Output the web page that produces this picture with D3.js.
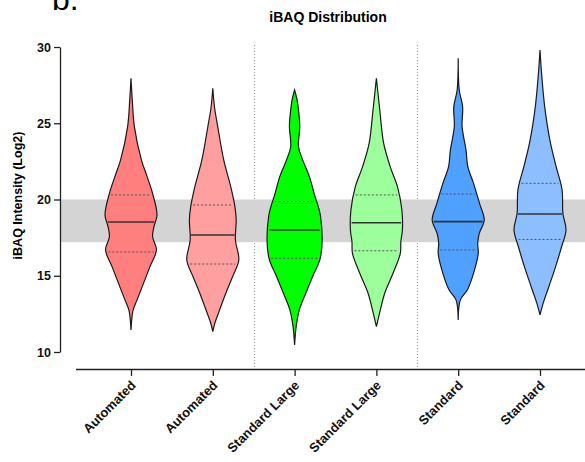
<!DOCTYPE html>
<html>
<head>
<meta charset="utf-8">
<script src="https://cdn.jsdelivr.net/npm/d3@7"></script>
<style>
  body { margin: 0; background: #fff; }
  svg { display: block; font-family: "Liberation Sans", Arial, sans-serif; }
</style>
</head>
<body>
<svg id="chart" width="585" height="462"></svg>
<script>
// Group labels along the x axis (they repeat, so we index them)
const categories = ['Automated', 'Automated', 'Standard Large', 'Standard Large', 'Standard', 'Standard'];
const fills = ['#FF7F7F', '#FF9F9F', '#00FF00', '#9CFF9C', '#4FA0FF', '#8DBEFF'];

// Quartiles per group (log2 intensity)
const medians = [18.52, 17.67, 18.0, 18.48, 18.55, 19.05];
const q1s = [16.56, 15.77, 16.14, 16.64, 16.69, 17.38];
const q3s = [20.3, 19.64, 19.86, 20.3, 20.36, 21.06];

// Density profiles: [value, relative half width]
const profile0 = [[27.95, 0], [26.5, 0.05], [24.78, 0.13], [22.6, 0.4], [21.5, 0.62], [20.4, 0.83], [18.98, 1.0], [18.2, 0.88], [17.56, 0.83], [16.7, 0.98], [15.6, 0.73], [14.5, 0.48], [13.4, 0.23], [12.75, 0.08], [11.44, 0]];
const profile1 = [[27.29, 0], [26.0, 0.07], [24.78, 0.19], [22.6, 0.42], [20.84, 0.69], [19.53, 0.85], [18.66, 0.9], [17.34, 0.87], [16.03, 1.0], [14.94, 0.76], [13.85, 0.5], [12.75, 0.26], [11.9, 0.08], [11.33, 0]];
const profile2 = [[27.18, 0], [26.5, 0.1], [25.87, 0.15], [24.78, 0.2], [23.46, 0.15], [22.6, 0.31], [21.5, 0.57], [20.4, 0.75], [18.87, 1.0], [16.25, 1.0], [14.94, 0.69], [13.85, 0.43], [12.75, 0.18], [11.66, 0.06], [10.46, 0]];
const profile3 = [[27.95, 0], [25.87, 0.13], [23.68, 0.28], [22.16, 0.53], [20.84, 0.81], [19.31, 0.98], [18.0, 1.0], [17.23, 0.94], [16.47, 0.92], [15.16, 0.64], [13.85, 0.32], [12.53, 0.12], [11.66, 0]];
const profile4 = [[29.26, 0], [27.18, 0.04], [26.09, 0.17], [24.78, 0.15], [23.25, 0.3], [22.16, 0.37], [21.06, 0.59], [19.75, 0.82], [18.66, 1.0], [17.78, 0.81], [17.13, 0.75], [16.47, 0.77], [15.16, 0.59], [14.07, 0.35], [13.4, 0.08], [12.1, 0]];
const profile5 = [[29.8, 0], [28.28, 0.06], [26.09, 0.18], [23.9, 0.38], [22.16, 0.62], [20.62, 0.85], [19.1, 0.88], [18.0, 1.0], [16.9, 0.83], [15.6, 0.6], [14.28, 0.34], [13.19, 0.12], [12.43, 0]];
const profiles = [profile0, profile1, profile2, profile3, profile4, profile5];

// Shaded reference band
const band = [17.2, 20.0];
const yTicks = [10, 15, 20, 25, 30];

const svg = d3.select('#chart');

const x = d3.scalePoint().domain(d3.range(categories.length)).range([131, 540]);
const y = d3.scaleLinear().domain([10, 30]).range([352, 47]);
const w = d3.scaleLinear().domain([0, 1]).range([0, 26]);

const axisY = 369;
const axisLeft = 60;

// Panel letter and title (the letter is cut by the top edge, as in the figure)
svg.append('text')
  .attr('x', 52).attr('y', 10)
  .attr('font-size', 32)
  .text('b.');

svg.append('text')
  .attr('x', 328).attr('y', 22)
  .attr('text-anchor', 'middle')
  .attr('font-size', 14)
  .attr('font-weight', 'bold')
  .text('iBAQ Distribution');

// Dotted separators between the pairs
[1.5, 3.5].forEach(m => {
  const sx = Math.round((x(Math.floor(m)) + x(Math.ceil(m))) / 2) + 0.5;
  svg.append('line')
    .attr('x1', sx).attr('x2', sx)
    .attr('y1', 45).attr('y2', axisY)
    .attr('stroke', '#999')
    .attr('stroke-width', 1)
    .attr('stroke-dasharray', '1,2');
});

// Grey band
svg.append('rect')
  .attr('x', axisLeft)
  .attr('y', y(band[1]))
  .attr('width', 585 - axisLeft)
  .attr('height', y(band[0]) - y(band[1]))
  .attr('fill', '#D4D4D4');

// Violins
const area = d3.area()
  .curve(d3.curveCatmullRom)
  .y(d => y(d[0]));

categories.forEach((c, i) => {
  const cx = x(i);
  const prof = profiles[i];
  const g = svg.append('g');

  g.append('path')
    .datum(prof)
    .attr('d', area.x0(d => cx - w(d[1])).x1(d => cx + w(d[1])))
    .attr('fill', fills[i])
    .attr('stroke', '#1a1a1a')
    .attr('stroke-width', 1.2);

  // half width at a given value, interpolated along the profile
  const hw = d3.scaleLinear().domain(prof.map(p => p[0])).range(prof.map(p => w(p[1])));

  [q1s[i], q3s[i]].forEach(q => {
    g.append('line')
      .attr('x1', cx - hw(q) + 2).attr('x2', cx + hw(q) - 2)
      .attr('y1', y(q)).attr('y2', y(q))
      .attr('stroke', '#555')
      .attr('stroke-width', 1)
      .attr('stroke-dasharray', '2,2');
  });

  g.append('line')
    .attr('x1', cx - hw(medians[i]) + 1).attr('x2', cx + hw(medians[i]) - 1)
    .attr('y1', y(medians[i])).attr('y2', y(medians[i]))
    .attr('stroke', '#333')
    .attr('stroke-width', 1.6);
});

// Y axis
const gy = svg.append('g')
  .attr('transform', `translate(${axisLeft},0)`)
  .call(d3.axisLeft(y).tickValues(yTicks).tickSize(6).tickPadding(3).tickSizeOuter(0));
gy.select('.domain').attr('stroke', '#222').attr('stroke-width', 1.3);
gy.selectAll('.tick line').attr('stroke', '#222').attr('stroke-width', 1.3);
gy.selectAll('.tick text')
  .attr('font-size', 12.5)
  .attr('font-weight', 'bold')
  .attr('fill', '#111');

svg.append('text')
  .attr('transform', `translate(22,${y(20) - 4}) rotate(-90)`)
  .attr('text-anchor', 'middle')
  .attr('font-size', 12.5)
  .attr('font-weight', 'bold')
  .text('iBAQ Intensity (Log2)');

// X axis
const gx = svg.append('g')
  .attr('transform', `translate(0,${axisY})`)
  .call(d3.axisBottom(x).tickFormat(i => categories[i]).tickSize(7).tickSizeOuter(0));
gx.select('.domain')
  .attr('d', `M76,0.5H585`)
  .attr('stroke', '#222')
  .attr('stroke-width', 1.3);
gx.selectAll('.tick line').attr('stroke', '#222').attr('stroke-width', 1.3);
gx.selectAll('.tick text')
  .attr('font-size', 13)
  .attr('font-weight', 'bold')
  .attr('fill', '#111')
  .attr('text-anchor', 'end')
  .attr('dy', null)
  .attr('transform', 'translate(-2,10) rotate(-45)');
</script>
</body>
</html>
